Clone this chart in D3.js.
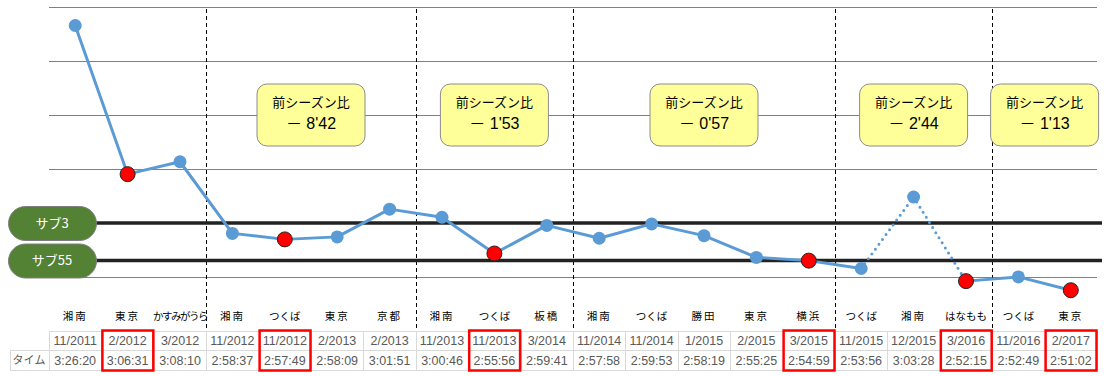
<!DOCTYPE html>
<html>
<head>
<meta charset="utf-8">
<script src="https://cdn.jsdelivr.net/npm/d3@7"></script>
<style>
  body { margin: 0; background: #ffffff; }
  svg { display: block; font-family: "Liberation Sans", Arial, "Noto Sans CJK JP", sans-serif; }
</style>
</head>
<body>
<script>
const width = 1114;
const height = 376;

// DATA
const places = ["湘南", "東京", "かすみがうら", "湘南", "つくば", "東京", "京都", "湘南", "つくば", "板橋",
                "湘南", "つくば", "勝田", "東京", "横浜", "つくば", "湘南", "はなもも", "つくば", "東京"];
const dates = ["11/2011", "2/2012", "3/2012", "11/2012", "11/2012", "2/2013", "2/2013", "11/2013", "11/2013", "3/2014",
               "11/2014", "11/2014", "1/2015", "2/2015", "3/2015", "11/2015", "12/2015", "3/2016", "11/2016", "2/2017"];
const times = ["3:26:20", "3:06:31", "3:08:10", "2:58:37", "2:57:49", "2:58:09", "3:01:51", "3:00:46", "2:55:56", "2:59:41",
               "2:57:58", "2:59:53", "2:58:19", "2:55:25", "2:54:59", "2:53:56", "3:03:28", "2:52:15", "2:52:49", "2:51:02"];
// personal bests (red)
const bests = [1, 4, 8, 14, 17, 19];
// dotted segments (start index)
const dottedFrom = [15, 16];
// season boundaries (index of first race of each new season)
const seasonStarts = [3, 7, 10, 15, 18];
const seasonDiffs = ["－ 8'42", "－ 1'53", "－ 0'57", "－ 2'44", "－ 1'13"];
// target lines
const targets = [{ label: "サブ3", time: "3:00:00" }, { label: "サブ55", time: "2:55:00" }];
// y axis (seconds), Excel-style 0.005 day steps
const yMin = 10368, yMax = 12528, yStep = 432;

function toSec(s) {
  const p = s.split(":").map(Number);
  return p[0] * 3600 + p[1] * 60 + p[2];
}

const svg = d3.select("body").append("svg")
  .attr("width", width)
  .attr("height", height);

const x = d3.scaleBand()
  .domain(d3.range(places.length))
  .range([49, 1097]);

const y = d3.scaleLinear()
  .domain([yMin, yMax])
  .range([277, 7]);

//Gridlines
svg.append("g")
  .selectAll("line")
  .data(d3.range(yMin, yMax + 1, yStep))
  .join("line")
  .attr("x1", 49)
  .attr("x2", 1097)
  .attr("y1", d => Math.round(y(d)) + 0.5)
  .attr("y2", d => Math.round(y(d)) + 0.5)
  .attr("stroke", "#808080")
  .attr("stroke-width", 1);

//Season separators
svg.append("g")
  .selectAll("line")
  .data(seasonStarts)
  .join("line")
  .attr("x1", d => Math.round(x(d)) + 0.5)
  .attr("x2", d => Math.round(x(d)) + 0.5)
  .attr("y1", 9)
  .attr("y2", 331)
  .attr("stroke", "#000")
  .attr("stroke-width", 1)
  .attr("stroke-dasharray", "4,3");

//Season comparison boxes
const boxW = 108, boxH = 62;
const seasonEnds = seasonStarts.slice(1).concat([places.length]);
seasonStarts.forEach((s, i) => {
  let cx = (x(s) + x(seasonEnds[i] - 1) + x.bandwidth()) / 2;
  cx = Math.min(cx, 1103 - boxW / 2);
  const g = svg.append("g").attr("transform", `translate(${cx},84)`);
  g.append("rect")
    .attr("x", -boxW / 2)
    .attr("y", 0)
    .attr("width", boxW)
    .attr("height", boxH)
    .attr("rx", 10)
    .attr("fill", "#ffff99")
    .attr("stroke", "#8c8c8c")
    .attr("stroke-width", 1);
  g.append("text")
    .attr("y", 19)
    .attr("text-anchor", "middle")
    .attr("dominant-baseline", "middle")
    .style("font-family", "'Noto Sans CJK JP', sans-serif")
    .style("font-size", "13px")
    .style("fill", "#000")
    .text("前シーズン比");
  g.append("text")
    .attr("y", 41)
    .attr("text-anchor", "middle")
    .attr("dominant-baseline", "middle")
    .style("font-size", "16px")
    .style("fill", "#000")
    .text(seasonDiffs[i]);
});

//Target lines
targets.forEach(t => {
  const ty = y(toSec(t.time));
  svg.append("line")
    .attr("x1", 96)
    .attr("x2", 1102)
    .attr("y1", ty)
    .attr("y2", ty)
    .attr("stroke", "#222")
    .attr("stroke-width", 3.5);
  svg.append("rect")
    .attr("x", 8.5)
    .attr("y", ty - 16.5)
    .attr("width", 88)
    .attr("height", 34)
    .attr("rx", 17)
    .attr("fill", "#548235")
    .attr("stroke", "#7f7f7f")
    .attr("stroke-width", 1);
  svg.append("text")
    .attr("x", 52)
    .attr("y", ty + 1)
    .attr("text-anchor", "middle")
    .attr("dominant-baseline", "middle")
    .style("font-family", "'Noto Sans CJK JP', sans-serif")
    .style("font-size", "13px")
    .style("fill", "#fff")
    .text(t.label);
});

//Line segments
const px = i => x(i) + x.bandwidth() / 2;
const py = i => y(toSec(times[i]));
const segs = d3.range(times.length - 1);
svg.append("g")
  .selectAll("line")
  .data(segs)
  .join("line")
  .attr("x1", d => px(d))
  .attr("y1", d => py(d))
  .attr("x2", d => px(d + 1))
  .attr("y2", d => py(d + 1))
  .attr("stroke", "#5b9bd5")
  .attr("stroke-width", 3)
  .attr("stroke-linecap", "round")
  .attr("stroke-dasharray", d => dottedFrom.includes(d) ? "0,6" : null);

//Points
svg.append("g")
  .selectAll("circle")
  .data(d3.range(times.length))
  .join("circle")
  .attr("cx", d => px(d))
  .attr("cy", d => py(d))
  .attr("r", d => bests.includes(d) ? 7.5 : 6.5)
  .attr("fill", d => bests.includes(d) ? "#ff0000" : "#5b9bd5")
  .attr("stroke", d => bests.includes(d) ? "#262626" : "none")
  .attr("stroke-width", 1);

//Place labels
svg.append("g")
  .selectAll("text")
  .data(places)
  .join("text")
  .attr("x", (d, i) => px(i))
  .attr("y", 317)
  .attr("text-anchor", "middle")
  .attr("dominant-baseline", "middle")
  .style("font-family", "'Noto Sans CJK JP', sans-serif")
  .style("font-size", "10.5px")
  .style("letter-spacing", d => d.length > 4 ? "-1.5px" : (d.length > 2 ? "0px" : "2px"))
  .style("fill", "#000")
  .text(d => d);

//Table
const tTop = 331.5, tMid = 350.5, tBot = 370.5;
const table = svg.append("g");
table.append("line").attr("x1", 49).attr("x2", 1097).attr("y1", tTop).attr("y2", tTop);
table.append("line").attr("x1", 10).attr("x2", 1097).attr("y1", tMid).attr("y2", tMid);
table.append("line").attr("x1", 10).attr("x2", 1097).attr("y1", tBot).attr("y2", tBot);
table.append("line").attr("x1", 10.5).attr("x2", 10.5).attr("y1", tMid).attr("y2", tBot);
table.selectAll(".vline")
  .data(d3.range(places.length + 1))
  .join("line")
  .attr("class", "vline")
  .attr("x1", d => Math.round(d < places.length ? x(d) : 1097) + 0.5)
  .attr("x2", d => Math.round(d < places.length ? x(d) : 1097) + 0.5)
  .attr("y1", tTop)
  .attr("y2", tBot);
table.selectAll("line")
  .attr("stroke", "#d9d9d9")
  .attr("stroke-width", 1);

table.append("text")
  .attr("x", 29)
  .attr("y", (tMid + tBot) / 2 + 1)
  .attr("text-anchor", "middle")
  .attr("dominant-baseline", "middle")
  .style("font-family", "'Noto Sans CJK JP', sans-serif")
  .style("font-size", "11px")
  .style("fill", "#595959")
  .text("タイム");

table.selectAll(".date")
  .data(dates)
  .join("text")
  .attr("class", "date")
  .attr("x", (d, i) => px(i))
  .attr("y", (tTop + tMid) / 2 + 1)
  .attr("text-anchor", "middle")
  .attr("dominant-baseline", "middle")
  .style("font-size", "12.5px")
  .style("fill", "#595959")
  .text(d => d);

table.selectAll(".time")
  .data(times)
  .join("text")
  .attr("class", "time")
  .attr("x", (d, i) => px(i))
  .attr("y", (tMid + tBot) / 2 + 1)
  .attr("text-anchor", "middle")
  .attr("dominant-baseline", "middle")
  .style("font-size", "12.5px")
  .style("fill", "#595959")
  .text(d => d);

//Red boxes on personal bests
svg.append("g")
  .selectAll("rect")
  .data(bests)
  .join("rect")
  .attr("x", d => x(d) + 1)
  .attr("y", 330.5)
  .attr("width", x.bandwidth() - 1.5)
  .attr("height", 40)
  .attr("fill", "none")
  .attr("stroke", "#ff0000")
  .attr("stroke-width", 2.5);
</script>
</body>
</html>
